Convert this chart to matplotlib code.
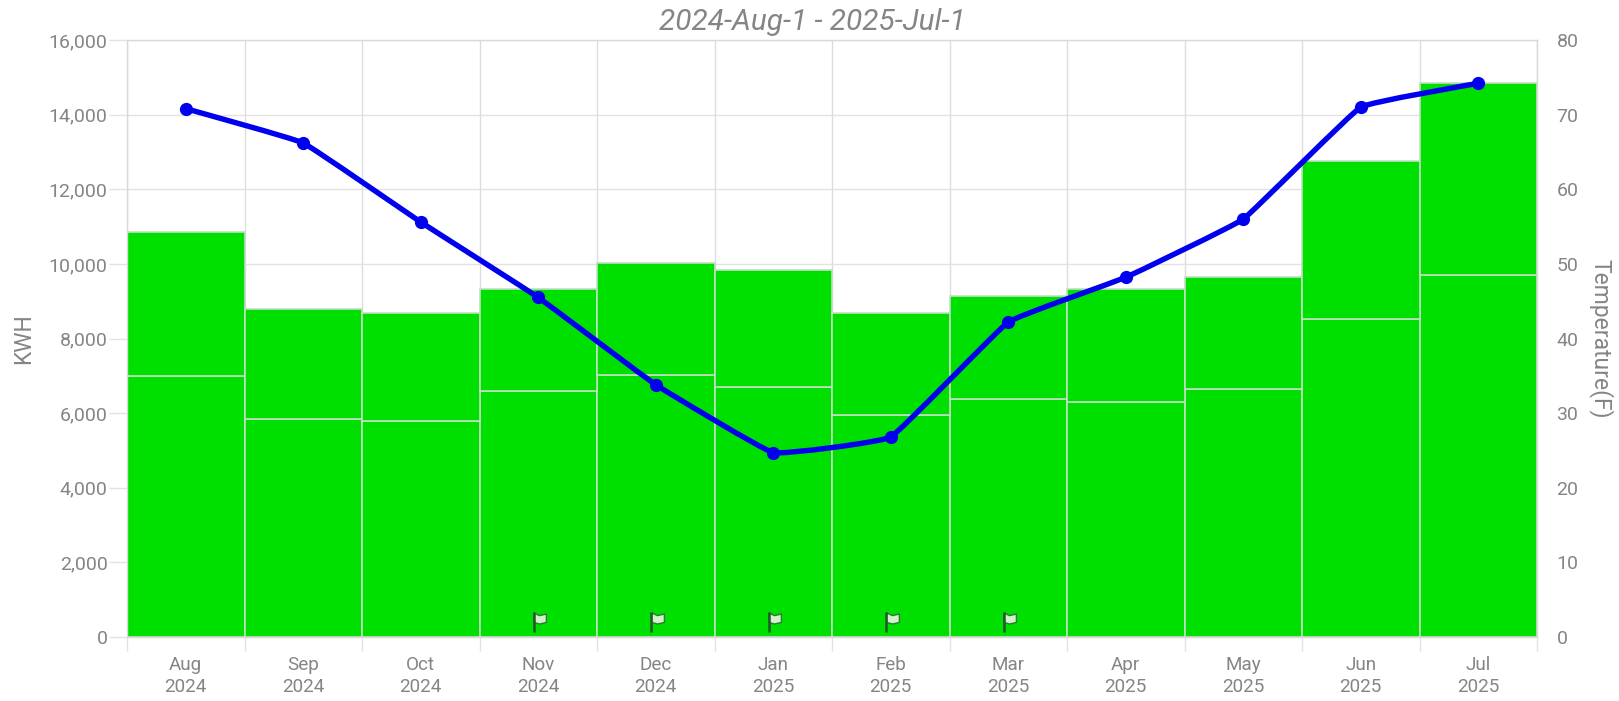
import matplotlib
matplotlib.use("Agg")
import matplotlib.pyplot as plt
from matplotlib.path import Path
from matplotlib.patches import PathPatch

months = ["Aug\n2024", "Sep\n2024", "Oct\n2024", "Nov\n2024", "Dec\n2024", "Jan\n2025",
          "Feb\n2025", "Mar\n2025", "Apr\n2025", "May\n2025", "Jun\n2025", "Jul\n2025"]
lower_kwh = [7000, 5850, 5780, 6600, 7030, 6700, 5950, 6380, 6300, 6640, 8520, 9700]
upper_kwh = [3860, 2950, 2900, 2720, 3000, 3140, 2740, 2750, 3040, 3020, 4230, 5160]
temperature = [70.8, 66.2, 55.6, 45.5, 33.8, 24.7, 26.8, 42.2, 48.2, 56.0, 71.0, 74.2]
flag_months = [3, 4, 5, 6, 7]
flag_kwh = [380, 380, 380, 380, 380]
title = "2024-Aug-1 - 2025-Jul-1"
kwh_ticks = list(range(0, 16001, 2000))
temp_ticks = list(range(0, 81, 10))

W, H = 1619, 701
L, R, T, B = 127, 1537, 40, 637
GRAY = "#858585"
GRID = "#e2e2e2"
EDGE = "#c2dec2"
TENSION = 0.04
plt.rcParams["font.family"] = ["Roboto", "DejaVu Sans"]

fig = plt.figure(figsize=(W / 100, H / 100), dpi=100, facecolor="white")
ax = fig.add_axes([L / W, 1 - B / H, (R - L) / W, (B - T) / H])
ax.set_xlim(-0.5, 11.5)
ax.set_ylim(0, 16000)
ax.set_axisbelow(True)

x = list(range(len(months)))
ax.bar(x, lower_kwh, width=1.0, color="#00e000", edgecolor=EDGE, linewidth=1.2, zorder=2)
ax.bar(x, upper_kwh, width=1.0, bottom=lower_kwh, color="#00e000", edgecolor=EDGE,
       linewidth=1.2, zorder=2)

ax.set_xticks(x)
ax.set_xticklabels(months, fontsize=13.6, color=GRAY, linespacing=1.22)
ax.set_xticks([i - 0.5 for i in range(13)], minor=True)
ax.tick_params(axis="x", which="major", length=0, pad=14)
ax.tick_params(axis="x", which="minor", length=10, width=1, color=GRID)
ax.set_yticks(kwh_ticks)
ax.set_yticklabels([f"{v:,}" for v in kwh_ticks], fontsize=14, color=GRAY)
ax.tick_params(axis="y", length=13, width=1, color=GRID, pad=1)
ax.grid(axis="y", color=GRID, linewidth=1, zorder=0)
ax.grid(axis="x", which="minor", color="#dddddd", linewidth=1, zorder=0)
for s in ax.spines.values():
    s.set_color("#d9d9d9")
    s.set_linewidth(1)
ax.set_ylabel("KWH", fontsize=16.5, color=GRAY, labelpad=10)
fig.text(812 / W, 1 - 21.5 / H, title, fontsize=21.4, style="italic", color=GRAY,
         ha="center", va="center")

ax2 = ax.twinx()
ax2.set_ylim(0, 80)
ax2.set_yticks(temp_ticks)
ax2.set_yticklabels([str(v) for v in temp_ticks], fontsize=14, color=GRAY)
ax2.tick_params(axis="y", length=0, pad=14)
for s in ax2.spines.values():
    s.set_visible(False)
ax2.set_ylabel("Temperature(F)", fontsize=16.5, color=GRAY, rotation=270, labelpad=25)

n = len(x)
verts = [(x[0], temperature[0])]
for i in range(n - 1):
    a, b = max(i - 1, 0), min(i + 2, n - 1)
    c1 = (x[i] + TENSION * (x[i + 1] - x[a]), temperature[i] + TENSION * (temperature[i + 1] - temperature[a]))
    c2 = (x[i + 1] - TENSION * (x[b] - x[i]), temperature[i + 1] - TENSION * (temperature[b] - temperature[i]))
    verts += [c1, c2, (x[i + 1], temperature[i + 1])]
codes = [Path.MOVETO] + [Path.CURVE4] * (3 * (n - 1))
ax2.add_patch(PathPatch(Path(verts, codes), facecolor="none", edgecolor="#0000ee", linewidth=3.9,
                        capstyle="round", joinstyle="round", zorder=5))
ax2.plot(x, temperature, linestyle="none", color="#0000ee", marker="o", markersize=8.5, zorder=6)

pole = Path([(-0.45, -0.9), (-0.45, 1)], [Path.MOVETO, Path.LINETO])
cloth = Path([(-0.45, 1), (0.1, 0.75), (0.75, 0.9), (0.75, 0.1), (0.1, -0.05), (-0.45, 0.1), (-0.45, 1)],
             [Path.MOVETO] + [Path.LINETO] * 5 + [Path.CLOSEPOLY])
ax.scatter(flag_months, flag_kwh, marker=cloth, s=230, facecolor="#d2f2c8", edgecolor="#2b7a35",
           linewidth=1, zorder=6)
ax.scatter(flag_months, flag_kwh, marker=pole, s=230, facecolor="none", edgecolor="#1f5a28",
           linewidth=1.8, zorder=6)

fig.savefig("out.png", dpi=100, facecolor="white")
